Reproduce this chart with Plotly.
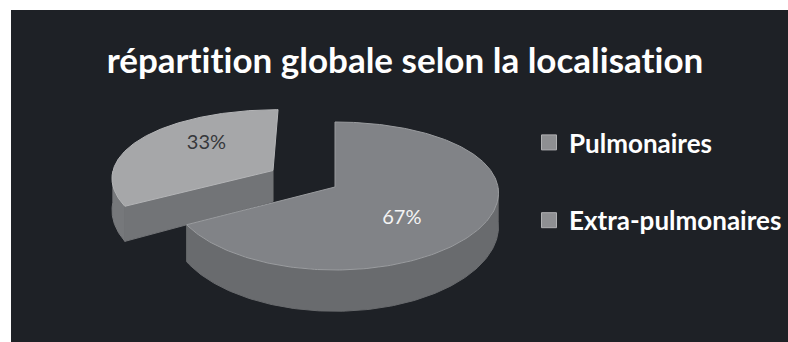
import numpy as np
import plotly.graph_objects as go

# Data
categories = ["Pulmonaires", "Extra-pulmonaires"]
shares = [67, 33]
title_text = "répartition globale selon la localisation"

# 3D pie geometry (drawing units = pixels of the figure)
W, H = 788, 342
CX, CY = 335, 187          # centre of the top face
RX, RY = 163, 74           # radii of the top ellipse
K_X, K_Y = 0.08, 0.1216    # mild perspective: front is larger than back
DEPTH, K_D = 33, 0.25      # thickness of the pie and its perspective factor
EXPLODE = {1: 0.45}        # pulled-out slices (index -> fraction of radius)
LABEL_R = {0: 0.55, 1: 0.62}
LABEL_NUDGE = {0: (-12, 11), 1: (15, -5)}

top_colors = ["#818387", "#a6a7a9"]
wall_colors = ["#696b6e", "#76787b"]
cut_colors = ["#6d6f72", "#727477"]
edge_colors = ["#9a9c9f", "#b4b5b7"]
label_colors = ["#f4f4f4", "#36383b"]
FONT = "Lato, 'Open Sans', sans-serif"


def proj(theta, r=1.0, off=(0.0, 0.0), bottom=False):
    """Project a point of the pie (polar, unit radius) onto the figure.

    off is the explode offset in unit radius (x to the right, z to the back).
    """
    xu = r * np.cos(theta) + off[0]
    zu = r * np.sin(theta) + off[1]
    x = CX + RX * xu * (1 - K_X * zu)
    y = CY - RY * zu * (1 - K_Y * zu)
    if bottom:
        y = y + DEPTH * (1 - K_D * zu)
    return x, y


fig = go.Figure()

# slice angles: start at 12 o'clock, clockwise
total = float(sum(shares))
bounds = []
start = np.pi / 2
for v in shares:
    sweep = 2 * np.pi * v / total
    bounds.append((start - sweep, start))  # (a1, a0) with a1 < a0
    start -= sweep


def offset_for(i):
    a1, a0 = bounds[i]
    mid = (a1 + a0) / 2
    d = EXPLODE.get(i, 0.0)
    return (d * np.cos(mid), d * np.sin(mid))


def add_poly(xs, ys, color, line_color=None):
    fig.add_trace(go.Scatter(
        x=list(xs) + [xs[0]], y=list(ys) + [ys[0]],
        mode="lines", fill="toself", fillcolor=color,
        line=dict(color=line_color or color, width=1),
        hoverinfo="skip", showlegend=False))


# exploded (back) slices first, then the main slice in front
order = sorted(range(len(shares)), key=lambda i: -EXPLODE.get(i, 0.0))
for i in order:
    a1, a0 = bounds[i]
    off = offset_for(i)
    th = np.linspace(a1, a0, 240)

    # outer wall (only the front half is visible)
    vis = th[np.sin(th) <= 0]
    if len(vis) > 1:
        tx, ty = proj(vis, off=off)
        bx, by = proj(vis[::-1], off=off, bottom=True)
        add_poly(np.r_[tx, bx], np.r_[ty, by], wall_colors[i])

    # radial cut faces facing the viewer
    for ang, sign in ((a1, 1), (a0, -1)):
        if sign * np.cos(ang) > 1e-6:
            c_top = proj(0.0, r=0.0, off=off)
            c_bot = proj(0.0, r=0.0, off=off, bottom=True)
            r_top = proj(ang, off=off)
            r_bot = proj(ang, off=off, bottom=True)
            xs = [c_top[0], r_top[0], r_bot[0], c_bot[0]]
            ys = [c_top[1], r_top[1], r_bot[1], c_bot[1]]
            add_poly(xs, ys, cut_colors[i])

    # top face
    px, py = proj(th, off=off)
    cx0, cy0 = proj(0.0, r=0.0, off=off)
    add_poly(np.r_[cx0, px], np.r_[cy0, py], top_colors[i], edge_colors[i])

# percentage labels
for i, v in enumerate(shares):
    a1, a0 = bounds[i]
    mid = (a1 + a0) / 2
    lx, ly = proj(mid, r=LABEL_R[i], off=offset_for(i))
    nx, ny = LABEL_NUDGE[i]
    fig.add_trace(go.Scatter(
        x=[lx + nx], y=[ly + ny], mode="text", text=[f"{v}%"],
        textfont=dict(family=FONT, size=20, color=label_colors[i]),
        hoverinfo="skip", showlegend=False))

# legend entries
for i, name in enumerate(categories):
    fig.add_trace(go.Scatter(
        x=[None], y=[None], mode="markers", name=name,
        marker=dict(symbol="square", size=15, color="#8e8f92",
                    line=dict(color="#b0b1b3", width=1)),
        legendgroup=name, legendrank=i + 1, showlegend=True))

fig.update_layout(
    width=W, height=H,
    margin=dict(l=0, r=0, t=0, b=0),
    paper_bgcolor="#ffffff",
    plot_bgcolor="rgba(0,0,0,0)",
    xaxis=dict(range=[0, W], visible=False, fixedrange=True, domain=[0, 1]),
    yaxis=dict(range=[H, 0], visible=False, fixedrange=True, domain=[0, 1]),
    title=dict(text=title_text, x=405 / W, xanchor="center",
               y=1 - 61 / H, yanchor="middle",
               font=dict(family=FONT, size=35, color="#ffffff", weight="bold")),
    legend=dict(x=529 / W, xanchor="left", y=1 - 119 / H, yanchor="top",
                bgcolor="rgba(0,0,0,0)", traceorder="grouped",
                tracegroupgap=41,
                font=dict(family=FONT, size=26, color="#ffffff", weight="bold")),
    shapes=[dict(type="rect", xref="paper", yref="paper",
                 x0=11 / W, x1=1, y0=0, y1=1 - 10 / H,
                 fillcolor="#1e2126", line=dict(width=0), layer="below")],
    showlegend=True,
)

# keep letter pairs such as "ti" as separate glyphs
no_ligatures = (
    "var s=document.createElement('style');"
    "s.textContent='.js-plotly-plot text{font-variant-ligatures:none !important;"
    "font-feature-settings:\"liga\" 0,\"clig\" 0 !important;}';"
    "document.head.appendChild(s);"
)
fig.write_html("out.html", post_script=no_ligatures)
